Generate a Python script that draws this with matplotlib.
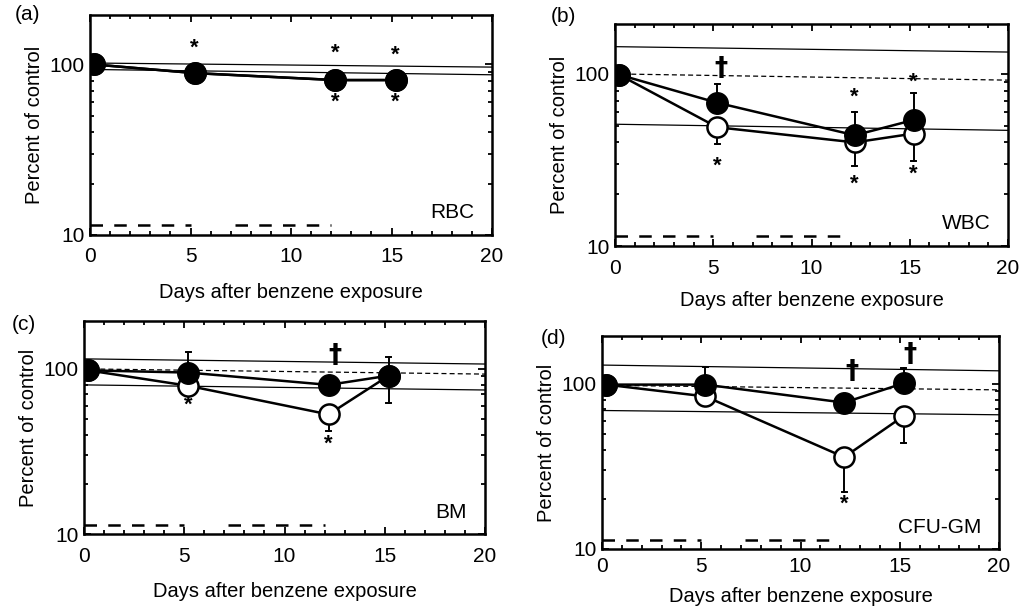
import matplotlib.pyplot as plt
from matplotlib.ticker import FixedLocator, NullFormatter, MultipleLocator

plt.rcParams["font.family"] = ["Liberation Sans", "DejaVu Sans"]

# sampling days (points sit a little right of the nominal day)
days = [0.2, 5.2, 12.2, 15.2]
exposure_1 = [0, 5]
exposure_2 = [7.2, 12]

# (a) RBC
rbc_filled = [100, 89, 81, 81]
rbc_filled_err = [0, 0, 0, 0]
rbc_open = [100, 89, 81, 81]
rbc_open_err = [0, 0, 0, 0]
rbc_ref_upper = [102, 96.5]
rbc_ref_mid = None
rbc_ref_lower = [93.5, 87]
rbc_marks = [("*", 5.2, 125), ("*", 12.2, 117), ("*", 15.2, 114),
             ("*", 12.2, 60), ("*", 15.2, 60)]

# (b) WBC
wbc_filled = [99, 68, 44, 54]
wbc_filled_err = [0, 19, 16, 23]
wbc_open = [99, 49, 40, 45]
wbc_open_err = [0, 10, 11, 14]
wbc_ref_upper = [144, 134]
wbc_ref_mid = [100, 92]
wbc_ref_lower = [51, 47]
wbc_marks = [("†", 5.4, 107), ("*", 5.2, 29), ("*", 12.2, 73), ("*", 12.2, 23),
             ("*", 15.2, 89), ("*", 15.2, 26)]

# (c) BM
bm_filled = [98, 95, 80, 91]
bm_filled_err = [0, 32, 0, 27]
bm_open = [98, 79, 53, 91]
bm_open_err = [0, 9, 11, 29]
bm_ref_upper = [115, 107]
bm_ref_mid = [100, 93]
bm_ref_lower = [80, 74.5]
bm_marks = [("†", 12.5, 120), ("*", 5.2, 60), ("*", 12.2, 35)]

# (d) CFU-GM
cfu_filled = [99, 99, 77, 101]
cfu_filled_err = [0, 28, 0, 23]
cfu_open = [99, 84, 36, 64]
cfu_open_err = [0, 11, 14, 20]
cfu_ref_upper = [130, 120]
cfu_ref_mid = [98, 92]
cfu_ref_lower = [69, 65]
cfu_marks = [("†", 12.6, 118), ("†", 15.5, 149), ("*", 12.2, 18.7)]

panels = [
    ("(a)", "RBC", rbc_filled, rbc_filled_err, rbc_open, rbc_open_err,
     rbc_ref_upper, rbc_ref_mid, rbc_ref_lower, rbc_marks),
    ("(b)", "WBC", wbc_filled, wbc_filled_err, wbc_open, wbc_open_err,
     wbc_ref_upper, wbc_ref_mid, wbc_ref_lower, wbc_marks),
    ("(c)", "BM", bm_filled, bm_filled_err, bm_open, bm_open_err,
     bm_ref_upper, bm_ref_mid, bm_ref_lower, bm_marks),
    ("(d)", "CFU-GM", cfu_filled, cfu_filled_err, cfu_open, cfu_open_err,
     cfu_ref_upper, cfu_ref_mid, cfu_ref_lower, cfu_marks),
]

# axes boxes in pixels: left, top, right, bottom
boxes = [(90, 15, 492, 235), (615, 24, 1008, 246),
         (84, 321, 485, 534), (602, 336, 999, 549)]
# panel tag positions in pixels
tag_pos = [(15, 14), (551, 16), (12, 325), (541, 338)]
# tick-label pad and x-label pad per panel
pads = [(9, 12), (9, 10), (9, 12), (6, 8)]

W, H = 1022, 612
fig = plt.figure(figsize=(W / 100, H / 100), dpi=100)


def draw_panel(ax, name, filled, f_err, opn, o_err, ref_up, ref_mid, ref_lo, marks, pad):
    ax.set_yscale("log")
    ax.set_xlim(0, 20)
    ax.set_ylim(10, 195)

    # control range lines (slightly slanted in the scan)
    ax.plot([0, 20], ref_up, color="black", lw=0.9, zorder=1)
    ax.plot([0, 20], ref_lo, color="black", lw=0.9, zorder=1)
    if ref_mid is not None:
        ax.plot([0, 20], ref_mid, color="black", lw=0.9, ls=(0, (4, 2.5)), zorder=1)

    # exposure periods
    for seg in (exposure_1, exposure_2):
        ax.plot(seg, [11.4, 11.4], color="black", lw=1.8, dashes=(5, 4.5), zorder=1)

    # open circles: lower error bars
    for x, v, e in zip(days, opn, o_err):
        if e > 0:
            ax.plot([x, x], [v - e, v], color="black", lw=1.4, zorder=2)
            ax.plot([x - 0.12, x + 0.12], [v - e, v - e], color="black", lw=1.4, zorder=2)
    ax.plot(days, opn, color="black", lw=1.8, marker="o", ms=14.5,
            mfc="white", mec="black", mew=1.8, zorder=3)

    # filled circles: upper error bars
    for x, v, e in zip(days, filled, f_err):
        if e > 0:
            ax.plot([x, x], [v, v + e], color="black", lw=1.4, zorder=4)
            ax.plot([x - 0.12, x + 0.12], [v + e, v + e], color="black", lw=1.4, zorder=4)
    ax.plot(days, filled, color="black", lw=1.8, marker="o", ms=15.5,
            mfc="black", mec="black", zorder=5)

    for sym, x, y in marks:
        if sym == "†":
            ax.text(x, y, sym, ha="center", va="center", fontsize=19,
                    fontweight="bold", family="DejaVu Sans", zorder=6)
        else:
            ax.text(x, y, sym, ha="center", va="center", fontsize=16,
                    fontweight="bold", zorder=6)

    ax.text(0.955, 0.1, name, transform=ax.transAxes, ha="right", va="center", fontsize=15)

    ax.xaxis.set_major_locator(MultipleLocator(5))
    ax.xaxis.set_minor_locator(MultipleLocator(1))
    ax.yaxis.set_major_locator(FixedLocator([10, 100]))
    ax.yaxis.set_major_formatter(plt.FixedFormatter(["10", "100"]))
    ax.yaxis.set_minor_locator(FixedLocator([20, 30, 40, 50, 60, 70, 80, 90]))
    ax.yaxis.set_minor_formatter(NullFormatter())
    ax.tick_params(which="both", direction="in", top=True, right=True, width=1.3)
    ax.tick_params(which="major", length=5, labelsize=15)
    ax.tick_params(axis="x", which="major", pad=pad[0])
    ax.tick_params(axis="y", which="major", pad=4)
    ax.tick_params(which="minor", length=3)
    for sp in ax.spines.values():
        sp.set_linewidth(1.8)

    ax.set_xlabel("Days after benzene exposure", fontsize=14.5, labelpad=pad[1])
    ax.set_ylabel("Percent of control", fontsize=14.5, labelpad=4)


for (tag, *rest), (l, t, r, b), (tx, ty), pad in zip(panels, boxes, tag_pos, pads):
    ax = fig.add_axes([l / W, 1 - b / H, (r - l) / W, (b - t) / H])
    draw_panel(ax, *rest, pad)
    fig.text(tx / W, 1 - ty / H, tag, fontsize=15, ha="left", va="center")

fig.savefig("out.png", dpi=100)
